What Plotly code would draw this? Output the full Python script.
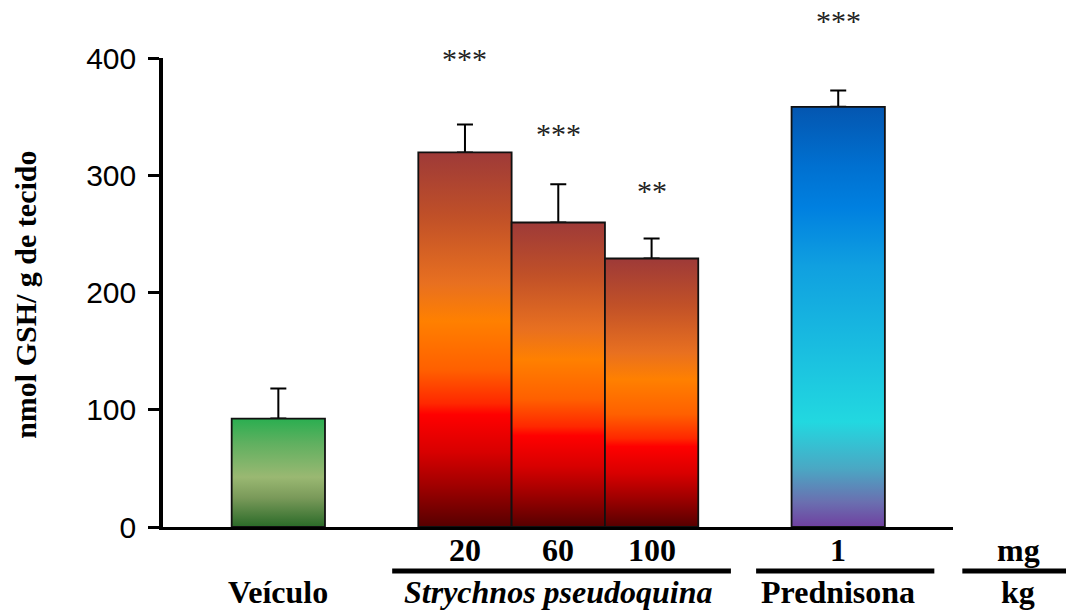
import plotly.graph_objects as go

# --- data -----------------------------------------------------------------
groups = ["Veículo", "Strychnos 20", "Strychnos 60", "Strychnos 100", "Prednisona 1"]
gsh_mean = [92.5, 319.5, 259.7, 229.0, 358.4]          # nmol GSH / g de tecido
gsh_sem = [25.6, 23.8, 32.7, 17.1, 13.9]
significance = ["", "***", "***", "**", "***"]
dose_labels = ["", "20", "60", "100", "1"]

# --- layout helpers -------------------------------------------------------
x_pos = [0, 2, 3, 4, 6]          # slot of each bar along the x axis
bar_w = 1.0
x_range = [-1.236, 7.23]
y_range = [0, 400]
star_y = [None, 400, 336, 287, 432]

green_scale = [[0.0, "#2a6a28"], [0.27, "#7a9a5a"], [0.46, "#9ab872"],
               [0.77, "#60b060"], [1.0, "#2aae50"]]
orange_scale = [[0.0, "#560000"], [0.11, "#a00000"], [0.20, "#d80000"],
                [0.30, "#ff0000"], [0.33, "#ff2800"], [0.42, "#ff6000"],
                [0.55, "#ff8000"], [0.65, "#e87020"], [0.83, "#c05028"],
                [1.0, "#9e3a38"]]
blue_scale = [[0.0, "#7040a0"], [0.06, "#6a70b0"], [0.14, "#4aa8c4"],
              [0.25, "#22d8e0"], [0.46, "#18b8e0"], [0.62, "#10a0e0"],
              [0.76, "#0080e0"], [0.86, "#0070d0"], [1.0, "#0456b0"]]
scales = [green_scale, orange_scale, orange_scale, orange_scale, blue_scale]

serif = "Liberation Serif, Times New Roman, serif"
sans = "Liberation Sans, Arial, sans-serif"


def xpaper(xv):
    return (xv - x_range[0]) / (x_range[1] - x_range[0])


def ypaper(yv):
    return (yv - y_range[0]) / (y_range[1] - y_range[0])


fig = go.Figure()

# error bars (upper only), carried by an invisible bar trace
fig.add_trace(go.Bar(
    x=x_pos, y=gsh_mean, width=bar_w,
    marker=dict(color="rgba(0,0,0,0)", line=dict(width=0)),
    error_y=dict(type="data", array=gsh_sem, arrayminus=[0] * len(gsh_sem),
                 symmetric=False, color="black", thickness=2, width=8),
    showlegend=False, hoverinfo="skip",
))

# gradient-filled, outlined bars
for xc, v, cs in zip(x_pos, gsh_mean, scales):
    x0, x1 = xc - bar_w / 2, xc + bar_w / 2
    fig.add_trace(go.Scatter(
        x=[x0, x0, x1, x1, x0], y=[0, v, v, 0, 0],
        mode="lines", fill="toself",
        fillgradient=dict(type="vertical", colorscale=cs),
        line=dict(color="#111111", width=1.8),
        showlegend=False, hoverinfo="skip",
    ))

annotations = []
for xc, s, sy in zip(x_pos, significance, star_y):
    if s:
        annotations.append(dict(x=xpaper(xc), y=ypaper(sy), xref="paper", yref="paper", text=s,
                                showarrow=False, font=dict(family=serif, size=30, color="#222222"),
                                xanchor="center", yanchor="middle"))

label_font = dict(family=serif, size=32, color="black")

# dose row under the axis
for xc, d in zip(x_pos, dose_labels):
    if d:
        annotations.append(dict(x=xpaper(xc), y=-0.049, xref="paper", yref="paper",
                                text="<b>%s</b>" % d, showarrow=False, font=label_font,
                                xanchor="center", yanchor="middle"))
annotations.append(dict(x=xpaper(7.93), y=-0.049, xref="paper", yref="paper", text="<b>mg</b>",
                        showarrow=False, font=label_font, xanchor="center", yanchor="middle"))

# group names
group_names = [(0, "<b>Veículo</b>"), (3, "<b><i>Strychnos pseudoquina</i></b>"),
               (6, "<b>Prednisona</b>"), (7.93, "<b>kg</b>")]
for xc, t in group_names:
    annotations.append(dict(x=xpaper(xc), y=-0.138, xref="paper", yref="paper", text=t,
                            showarrow=False, font=label_font,
                            xanchor="center", yanchor="middle"))

# y-axis title
annotations.append(dict(x=-0.174, y=0.494, xref="paper", yref="paper",
                        text="<b>nmol GSH/ g de tecido</b>", textangle=-90,
                        showarrow=False, font=dict(family=serif, size=30, color="black"),
                        xanchor="center", yanchor="middle"))

brackets = [(1.22, 4.85), (5.12, 7.03), (7.33, 8.5)]
shapes = [dict(type="line", xref="paper", yref="paper",
               x0=xpaper(a), x1=xpaper(b), y0=-0.094, y1=-0.094,
               line=dict(color="black", width=5))
          for a, b in brackets]

fig.update_layout(
    width=1066, height=610,
    margin=dict(l=163, r=113, t=58, b=83),
    paper_bgcolor="white", plot_bgcolor="white",
    showlegend=False, barmode="overlay",
    annotations=annotations, shapes=shapes,
    xaxis=dict(range=x_range, showgrid=False, zeroline=False, showticklabels=False,
               ticks="", showline=True, linecolor="black", linewidth=3, fixedrange=True),
    yaxis=dict(range=y_range, tickvals=[0, 100, 200, 300, 400], showgrid=False,
               zeroline=False, showline=True, linecolor="black", linewidth=3.5,
               ticks="outside", ticklen=11, tickwidth=3, tickcolor="black",
               tickfont=dict(family=sans, size=30, color="black"),
               ticklabelstandoff=6, fixedrange=True),
)

fig.write_html("out.html")
